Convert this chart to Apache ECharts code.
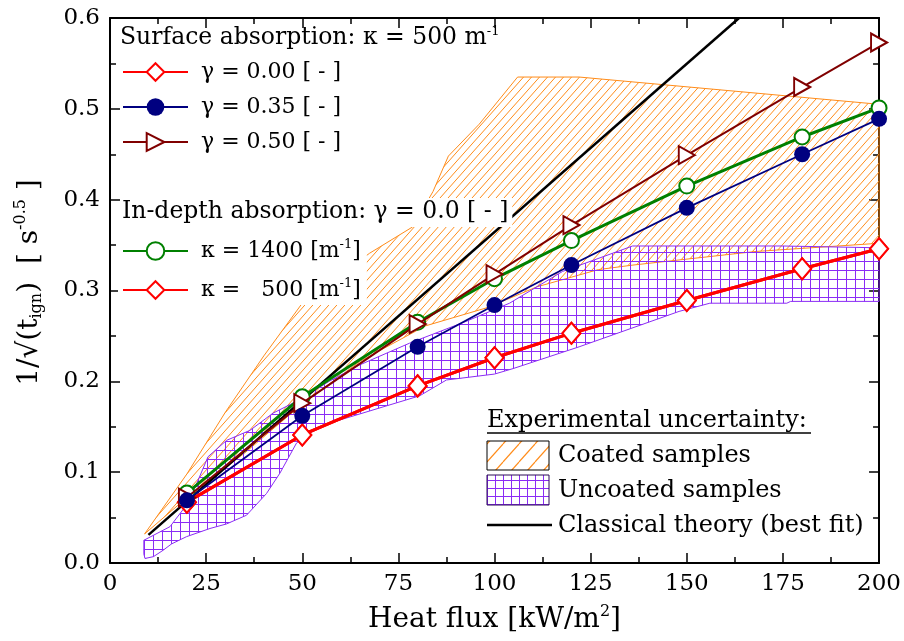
<!DOCTYPE html>
<html>
<head>
<meta charset="utf-8">
<script src="https://cdn.jsdelivr.net/npm/echarts@6/dist/echarts.min.js"></script>
<style>
  html, body { margin: 0; padding: 0; background: #fff; }
  #chart { width: 904px; height: 641px; }
</style>
</head>
<body>
<div id="chart"></div>
<script>
const FONT = 'DejaVu Serif';

// Heat flux levels of the model runs [kW/m2]
const fluxX = [20, 50, 80, 100, 120, 150, 180, 200];

// Surface absorption (kappa = 500 1/m), various gamma
const gamma000 = [0.067, 0.141, 0.195, 0.226, 0.253, 0.289, 0.324, 0.346];
const gamma035 = [0.069, 0.162, 0.238, 0.284, 0.328, 0.391, 0.450, 0.489];
const gamma050 = [0.072, 0.176, 0.263, 0.318, 0.372, 0.449, 0.524, 0.573];

// In-depth absorption (gamma = 0), various kappa
const kappa1400 = [0.077, 0.183, 0.265, 0.313, 0.355, 0.415, 0.469, 0.501];
const kappa500 = [0.067, 0.141, 0.195, 0.226, 0.253, 0.289, 0.324, 0.346];

// Classical theory, best-fit straight line
const theoryX = [10, 163.6];
const theoryY = [0.031, 0.6];

// Experimental uncertainty envelopes (closed outlines, [flux, value])
const coatedBand = [
  [9, 0.032], [20, 0.098], [30, 0.166], [40, 0.228], [50, 0.286], [67.5, 0.341],
  [78.7, 0.37], [84, 0.409], [88, 0.448], [96, 0.483], [106, 0.535], [122, 0.535],
  [200, 0.505], [200, 0.352], [168, 0.343], [136, 0.328], [127, 0.323], [111, 0.304],
  [102, 0.288], [98, 0.281], [82, 0.261], [65, 0.222], [50, 0.175], [35, 0.121],
  [20, 0.072], [9, 0.032]
];
const uncoatedBand = [
  [8.8, 0.025], [15.6, 0.04], [20.3, 0.066], [22.9, 0.091], [25.5, 0.117], [30.3, 0.135],
  [36.4, 0.146], [42.4, 0.165], [48.5, 0.178], [52.8, 0.189], [57, 0.2], [64.9, 0.218],
  [77.9, 0.242], [92.6, 0.266], [103.9, 0.286], [117.7, 0.321], [135.9, 0.349],
  [175, 0.349], [200, 0.347], [200, 0.288], [177, 0.288], [176, 0.286], [156, 0.286],
  [148, 0.277], [122, 0.238], [104.8, 0.214], [100, 0.208], [87.5, 0.2015], [80.5, 0.184],
  [57.1, 0.154], [51.9, 0.143], [48.5, 0.132], [44.2, 0.099], [40.7, 0.0765], [35.5, 0.0526],
  [30.3, 0.043], [26, 0.038], [19.9, 0.029], [16, 0.021], [13.8, 0.014], [11.3, 0.007],
  [9.1, 0.005], [8.8, 0.01]
];

const ORANGE = '#ff8c1a';
const PURPLE = '#8b2cf5';

// Tiles used as repeating fill patterns
function hatchTile(w, h, color, lw) {
  const c = document.createElement('canvas');
  c.width = w; c.height = h;
  const g = c.getContext('2d');
  g.strokeStyle = color; g.lineWidth = lw;
  for (let k = -1; k <= 1; k++) {
    g.beginPath();
    g.moveTo(k * w, h);
    g.lineTo(k * w + w, 0);
    g.stroke();
  }
  return c;
}
function gridTile(w, h, color) {
  const c = document.createElement('canvas');
  c.width = w; c.height = h;
  const g = c.getContext('2d');
  g.strokeStyle = color; g.lineWidth = 1;
  g.beginPath();
  g.moveTo(0.5, 0); g.lineTo(0.5, h);
  g.moveTo(0, 0.5); g.lineTo(w, 0.5);
  g.stroke();
  return c;
}
const hatchFill = { image: hatchTile(8, 9, ORANGE, 1), repeat: 'repeat' };
const gridFill = { image: gridTile(9, 9, PURPLE), repeat: 'repeat' };
const hatchSwatch = { image: hatchTile(16, 18, ORANGE, 1.2), repeat: 'repeat' };
const gridSwatch = { image: gridTile(8, 8, PURPLE), repeat: 'repeat' };

function pairs(xs, ys) { return xs.map((x, i) => [x, ys[i]]); }

function bandSeries(name, pts, fill, stroke) {
  return {
    type: 'custom',
    name: name,
    silent: true,
    clip: true,
    z: 1,
    data: pts,
    encode: { x: 0, y: 1 },
    renderItem: function (params, api) {
      if (params.dataIndex !== 0) return null;
      return {
        type: 'polygon',
        shape: { points: pts.map(p => api.coord(p)) },
        style: { fill: fill, stroke: stroke, lineWidth: 1 }
      };
    }
  };
}

const rich = {
  sup: { fontFamily: FONT, fontSize: 13, padding: [0, 0, 12, 0] },
  sub: { fontFamily: FONT, fontSize: 14, padding: [12, 0, 0, 0] }
};

const legendLabels = {
  'g000': 'γ = 0.00 [ - ]',
  'g035': 'γ = 0.35 [ - ]',
  'g050': 'γ = 0.50 [ - ]',
  'k1400': 'κ = 1400 [m{sup|-1}]',
  'k500': 'κ =   500 [m{sup|-1}]'
};

const baseText = { fontFamily: FONT, fontSize: 22, color: '#000', lineHeight: 26, padding: [0, 0, 0, 8], rich: rich };

function axisCommon(showLabels) {
  return {
    axisLine: { show: true, onZero: false, lineStyle: { color: '#000', width: 2 } },
    axisTick: { show: true, inside: true, length: 10, lineStyle: { color: '#000', width: 1.5 } },
    minorTick: { show: true, splitNumber: 2, length: 6, lineStyle: { color: '#000', width: 1.5 } },
    splitLine: { show: false },
    axisLabel: { show: showLabels, fontFamily: FONT, fontSize: 23, color: '#000', margin: 10 }
  };
}

const chart = echarts.init(document.getElementById('chart'), null, { renderer: 'canvas' });

const legendFont = '24px "DejaVu Serif"';

const option = {
  backgroundColor: '#fff',
  animation: false,
  grid: { left: 110, right: 23, top: 18, bottom: 78 },
  title: [
    {
      text: 'Surface absorption: κ = 500 m{sup|-1}',
      left: 120, top: 25, padding: 0,
      textStyle: { fontFamily: FONT, fontSize: 23.5, fontWeight: 'normal', color: '#000', lineHeight: 26, rich: rich }
    },
    {
      text: 'In-depth absorption: γ = 0.0 [ - ]',
      left: 120, top: 198, padding: [1, 4, 2, 2],
      backgroundColor: '#fff',
      textStyle: { fontFamily: FONT, fontSize: 23.5, fontWeight: 'normal', color: '#000', lineHeight: 26 }
    }
  ],
  legend: [
    {
      orient: 'vertical', left: 122, top: 59, padding: 0,
      itemWidth: 65, itemHeight: 22, itemGap: 9,
      selectedMode: false,
      data: ['g000', 'g035', 'g050'],
      formatter: n => legendLabels[n],
      textStyle: baseText
    },
    {
      orient: 'vertical', left: 118, top: 236, padding: [2, 6, 2, 4],
      backgroundColor: '#fff',
      itemWidth: 65, itemHeight: 22, itemGap: 13,
      selectedMode: false,
      data: ['k1400', 'k500'],
      formatter: n => legendLabels[n],
      textStyle: baseText
    }
  ],
  xAxis: [
    Object.assign({
      type: 'value', min: 0, max: 200, interval: 25, position: 'bottom',
      name: 'Heat flux [kW/m{sup|2}]', nameLocation: 'middle', nameGap: 41,
      nameTextStyle: { fontFamily: FONT, fontSize: 28, color: '#000', rich: { sup: { fontFamily: FONT, fontSize: 16, padding: [0, 0, 16, 0] } } }
    }, axisCommon(true)),
    Object.assign({ type: 'value', min: 0, max: 200, interval: 25, position: 'top' }, axisCommon(false))
  ],
  yAxis: [
    Object.assign({
      type: 'value', min: 0, max: 0.6, interval: 0.1, position: 'left',
      name: '1/√(t{sub|ign})  [ s{sup|-0.5} ]', nameLocation: 'middle', nameGap: 64, nameRotate: 90,
      nameTextStyle: {
        fontFamily: FONT, fontSize: 28, color: '#000', padding: [0, 0, 0, 16],
        rich: {
          sup: { fontFamily: FONT, fontSize: 16, padding: [0, 0, 17, 0] },
          sub: { fontFamily: FONT, fontSize: 16, padding: [15, 0, 0, 0] }
        }
      }
    }, axisCommon(true), {
      axisLabel: { fontFamily: FONT, fontSize: 23, color: '#000', margin: 10, formatter: v => v.toFixed(1) }
    }),
    Object.assign({ type: 'value', min: 0, max: 0.6, interval: 0.1, position: 'right' }, axisCommon(false))
  ],
  series: [
    bandSeries('Coated samples', coatedBand, hatchFill, ORANGE),
    bandSeries('Uncoated samples', uncoatedBand, gridFill, PURPLE),
    {
      name: 'Classical theory (best fit)', type: 'line', z: 3,
      data: pairs(theoryX, theoryY), showSymbol: false, symbol: 'none',
      lineStyle: { color: '#000', width: 2.5 }, silent: true
    },
    {
      name: 'k500', type: 'line', z: 4, data: pairs(fluxX, kappa500),
      symbol: 'emptyDiamond', symbolSize: [18, 21],
      itemStyle: { color: '#ff0000', borderWidth: 2 },
      lineStyle: { color: '#ff0000', width: 3 }, silent: true
    },
    {
      name: 'g000', type: 'line', z: 4, data: pairs(fluxX, gamma000),
      symbol: 'emptyDiamond', symbolSize: [18, 21],
      itemStyle: { color: '#ff0000', borderWidth: 2 },
      lineStyle: { color: '#ff0000', width: 3 }, silent: true
    },
    {
      name: 'k1400', type: 'line', z: 5, data: pairs(fluxX, kappa1400),
      symbol: 'emptyCircle', symbolSize: 15,
      itemStyle: { color: '#008000', borderWidth: 1.5 },
      lineStyle: { color: '#008000', width: 3 }, silent: true
    },
    {
      name: 'g050', type: 'line', z: 6, data: pairs(fluxX, gamma050),
      symbol: 'emptyTriangle', symbolSize: [18, 16], symbolRotate: -90,
      itemStyle: { color: '#800000', borderWidth: 1.5 },
      lineStyle: { color: '#800000', width: 2 }, silent: true
    },
    {
      name: 'g035', type: 'line', z: 7, data: pairs(fluxX, gamma035),
      symbol: 'circle', symbolSize: 16,
      itemStyle: { color: '#000080' },
      lineStyle: { color: '#000080', width: 1.8 }, silent: true
    }
  ],
  graphic: [
    {
      // key for the experimental envelopes and the theory line
      type: 'group', x: 487, y: 408, silent: true,
      children: [
        { type: 'text', x: 0, y: 1, style: { text: 'Experimental uncertainty:', font: legendFont, fill: '#000' } },
        { type: 'line', shape: { x1: 0, y1: 25, x2: 324, y2: 25 }, style: { stroke: '#000', lineWidth: 1.5 } },
        { type: 'rect', shape: { x: 0, y: 33, width: 62, height: 29 }, style: { fill: hatchSwatch, stroke: '#000', lineWidth: 1 } },
        { type: 'text', x: 71, y: 36, style: { text: 'Coated samples', font: legendFont, fill: '#000' } },
        { type: 'rect', shape: { x: 0, y: 67, width: 62, height: 30 }, style: { fill: gridSwatch, stroke: '#2a0a55', lineWidth: 1 } },
        { type: 'text', x: 71, y: 71, style: { text: 'Uncoated samples', font: legendFont, fill: '#000' } },
        { type: 'line', shape: { x1: 0, y1: 117, x2: 65, y2: 117 }, style: { stroke: '#000', lineWidth: 2.5 } },
        { type: 'text', x: 71, y: 106, style: { text: 'Classical theory (best fit)', font: legendFont, fill: '#000' } }
      ]
    }
  ]
};

chart.setOption(option);
</script>
</body>
</html>
